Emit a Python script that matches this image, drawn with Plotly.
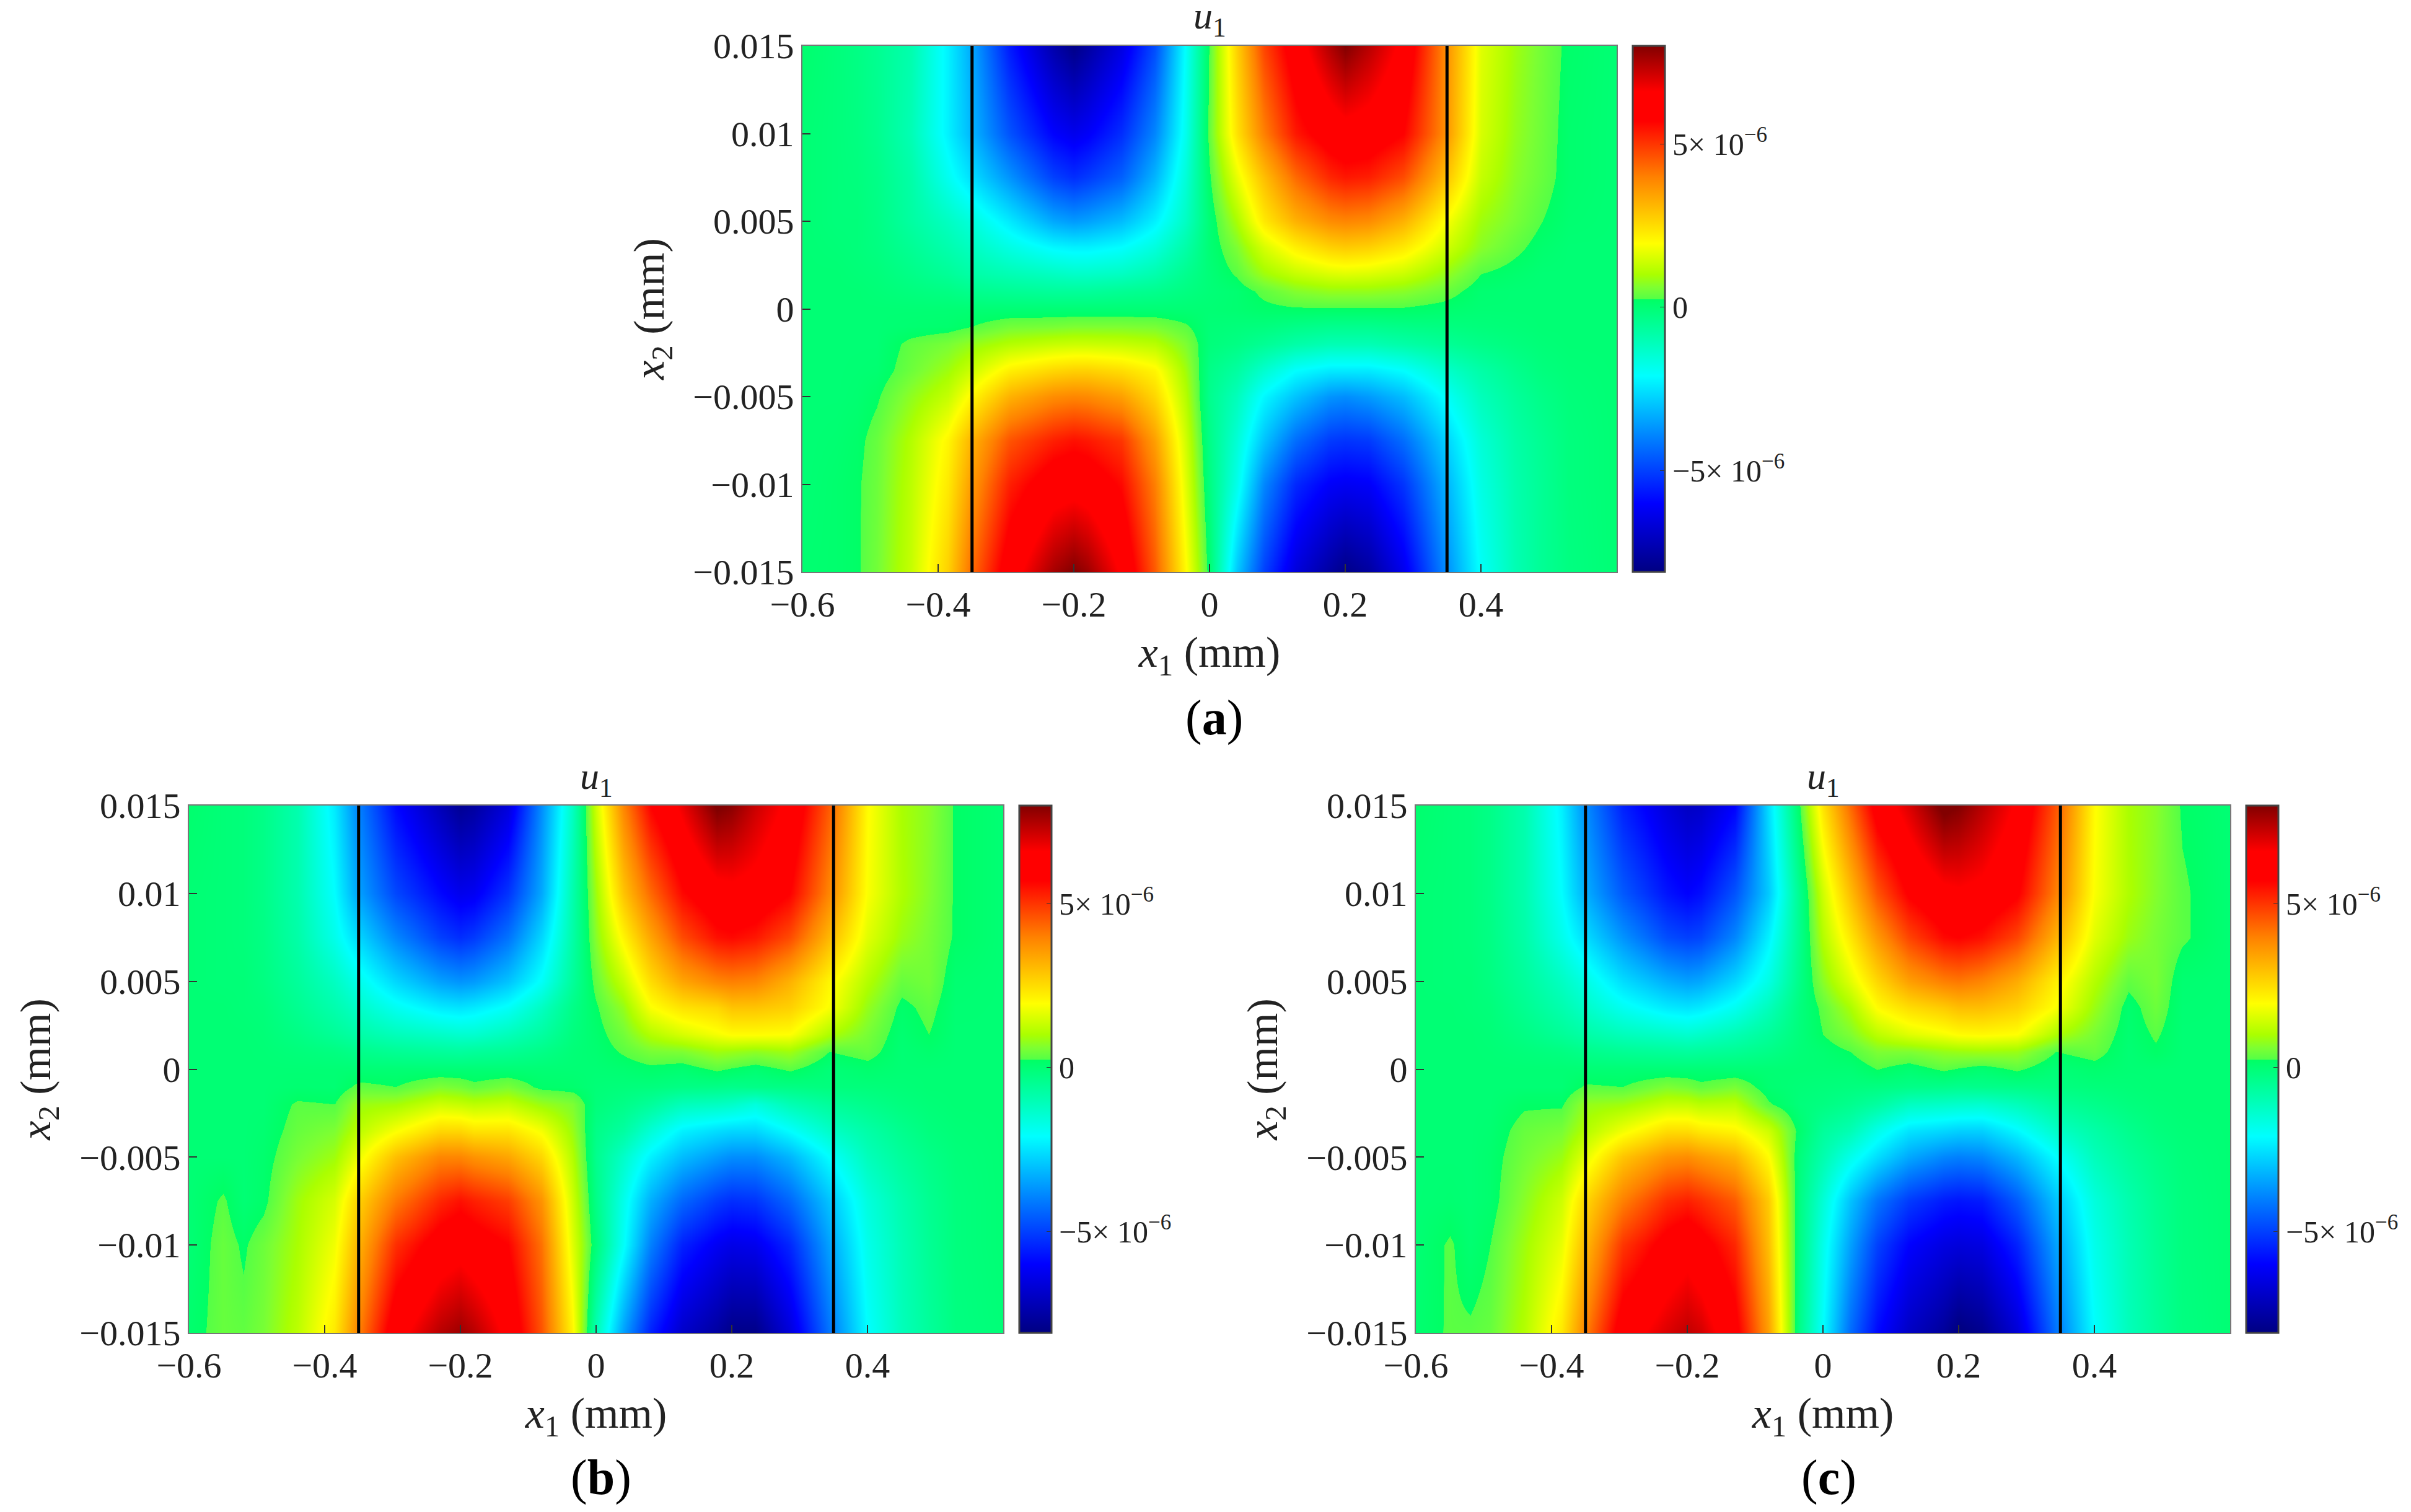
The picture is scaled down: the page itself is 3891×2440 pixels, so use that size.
#!/usr/bin/env python3
import plotly.graph_objects as go

# nodes of the field, mm
x1 = [-0.6, -0.55, -0.52, -0.49, -0.44, -0.385, -0.35, -0.295, -0.23, -0.2, -0.18, -0.13, -0.08, -0.035,
      0, 0.04, 0.08, 0.127, 0.178, 0.2, 0.235, 0.286, 0.343, 0.4, 0.45, 0.49, 0.53, 0.6]
x2 = [-0.015, -0.01, -0.0075, -0.005, -0.0035, -0.002, -0.001, 0, 0.001, 0.002, 0.0035, 0.005, 0.0075, 0.01, 0.015]

# u1, in units of 1e-6, rows go from x2 = -0.015 up
u1_a = [
    [.05, .1, .2, .5, 1.3, 2.7, 4.3, 6.2, 7.6, 8, 7.7, 6.5, 4.5, 2, .05, -2.9, -5, -6.6, -7.6, -8, -7.6, -6.3, -4, -2, -1, -.5, -.2, 0],
    [0, .1, .2, .45, 1.2, 2.3, 3.6, 5.3, 6.2, 6.3, 6.2, 5.6, 4, 1.6, -.2, -1.8, -3.9, -5.4, -6.1, -6.2, -6.1, -5.2, -3.4, -1.7, -.9, -.5, -.15, 0],
    [0, .05, .15, .4, 1.1, 2.1, 3.2, 4.6, 5.3, 5.5, 5.4, 5, 3.5, 1.4, -.3, -1.5, -3, -4.3, -5.1, -5.2, -5.1, -4.3, -2.9, -1.5, -.8, -.45, -.15, 0],
    [0, 0, .05, .2, .75, 1.3, 2.1, 3.2, 3.8, 3.9, 3.85, 3.5, 2.6, 1.1, -.4, -1.1, -2.2, -3, -3.7, -3.8, -3.6, -3.1, -2.1, -1.1, -.6, -.3, -.1, 0],
    [0, 0, .02, .05, .45, .9, 1.4, 2.2, 2.6, 2.7, 2.7, 2.5, 2.1, .9, -.3, -.7, -1.4, -2.1, -2.4, -2.4, -2.4, -2.1, -1.4, -.8, -.4, -.15, -.05, 0],
    [0, 0, 0, 0, .35, .55, .8, 1.1, 1.3, 1.35, 1.35, 1.3, 1.15, .6, -.1, -.25, -.5, -.8, -1, -1, -1, -.8, -.55, -.3, -.15, -.05, 0, 0],
    [0, 0, 0, 0, .05, .1, .25, .5, .55, .6, .6, .6, .55, .3, -.05, -.1, -.15, -.3, -.4, -.4, -.4, -.3, -.2, -.1, -.05, 0, 0, 0],
    [0, 0, 0, 0, 0, 0, 0, 0, 0, 0, 0, 0, 0, 0, 0, .05, .15, .2, .2, .2, .2, .2, .1, 0, 0, 0, 0, 0],
    [0, 0, 0, -.05, -.15, -.25, -.4, -.5, -.6, -.6, -.6, -.5, -.4, -.2, -.05, .05, .35, .65, .8, .8, .8, .7, .45, .05, 0, 0, 0, 0],
    [0, 0, -.05, -.1, -.3, -.55, -.8, -1, -1.2, -1.3, -1.3, -1.2, -.9, -.4, -.05, .3, .9, 1.3, 1.55, 1.6, 1.55, 1.35, .85, .25, .1, 0, 0, 0],
    [0, -.05, -.1, -.2, -.5, -.9, -1.2, -1.7, -2.2, -2.3, -2.3, -2.1, -1.6, -.8, 0, .6, 1.5, 2.2, 2.7, 2.8, 2.7, 2.3, 1.5, .7, .35, .1, 0, 0],
    [0, -.1, -.1, -.25, -.7, -1.2, -1.6, -2.4, -3.4, -3.6, -3.5, -3.1, -2.3, -1.2, 0, 1, 2.3, 3.2, 3.8, 3.9, 3.8, 3.2, 2, .9, .55, .25, .05, 0],
    [0, -.1, -.15, -.3, -.8, -1.9, -2.6, -3.7, -5, -5.3, -5.1, -4.5, -3.2, -1.5, .2, 1.7, 3, 4.3, 5.2, 5.4, 5.3, 4.7, 3.1, 1.3, .7, .4, .1, 0],
    [0, -.1, -.2, -.4, -1, -2.3, -3.2, -4.7, -6, -6.3, -6.1, -5.3, -3.9, -1.8, .4, 2.4, 4, 5.4, 6.1, 6.3, 6.2, 5.7, 3.9, 1.5, .8, .45, .1, 0],
    [.1, -.1, -.25, -.45, -.9, -2.3, -3.4, -5.6, -7.4, -8, -7.6, -6.5, -4.8, -2, .3, 2.7, 4.8, 6.2, 7.5, 8, 7.4, 6.4, 4, 1.6, .9, .5, .15, 0],
]
u1_b = [
    [.1, .4, .35, .55, 1.2, 2.3, 4, 6.3, 7.4, 7.7, 7.4, 6.4, 4.6, 2.1, -1, -3.5, -5.5, -6.9, -7.6, -8, -8, -6.6, -4.2, -2.1, -1.1, -.6, -.2, -.05],
    [0, .4, .2, .45, 1, 1.8, 3.2, 5.1, 6.1, 6.3, 6.1, 5.7, 4.2, 1.6, -.1, -2, -4, -5.5, -6.2, -6.4, -6.3, -5.4, -3.5, -1.8, -1, -.5, -.15, 0],
    [0, .3, 0, .15, .9, 1.5, 2.7, 4.1, 5.2, 5.5, 5.3, 4.9, 3.7, 1.4, -.3, -1.8, -3.3, -4.4, -5.1, -5.3, -5.2, -4.4, -3, -1.6, -.9, -.45, -.15, 0],
    [0, 0, 0, .1, .55, .9, 1.75, 3, 3.9, 3.9, 3.7, 3.4, 2.6, 1.1, -.4, -1.3, -2.3, -3.1, -3.6, -3.8, -3.8, -3.2, -2.1, -1.1, -.6, -.3, -.1, 0],
    [0, 0, 0, .05, .4, .6, 1.2, 1.9, 2.6, 2.6, 2.4, 2.4, 1.85, .85, -.3, -.7, -1.5, -2.3, -2.6, -2.7, -2.7, -2.1, -1.3, -.8, -.4, -.15, -.05, 0],
    [0, 0, 0, 0, .3, .25, .85, .95, 1.4, 1.3, 1.2, 1.3, .85, .6, -.1, -.3, -.6, -1.1, -1.2, -1.3, -1.6, -1, -.6, -.35, -.15, -.05, 0, 0],
    [0, 0, 0, 0, .05, .02, .35, .25, .6, .5, .35, .55, .15, .1, -.05, -.1, -.15, -.25, -.3, -.35, -.3, -.25, -.15, -.1, -.05, 0, 0, 0],
    [0, 0, 0, 0, 0, 0, 0, 0, 0, 0, 0, 0, 0, 0, 0, .05, .15, .05, .3, .2, .05, .3, -.05, .1, 0, 0, 0, 0],
    [0, 0, 0, -.02, -.1, -.2, -.35, -.5, -.6, -.65, -.6, -.5, -.3, -.05, .05, .3, .55, .6, .9, .85, .75, .9, .25, .4, 0, .1, 0, 0],
    [0, 0, 0, -.05, -.25, -.55, -.8, -1.1, -1.3, -1.4, -1.4, -1.1, -.7, -.15, .1, .5, 1.1, 1.5, 1.85, 2, 2, 1.95, 1.05, .55, .05, .25, 0, 0],
    [0, 0, -.05, -.1, -.45, -.9, -1.3, -1.9, -2.4, -2.5, -2.4, -2, -1.2, -.3, .2, .8, 1.9, 2.4, 2.6, 2.9, 2.9, 2.7, 1.9, .8, .15, .35, .02, 0],
    [0, -.05, -.05, -.2, -.6, -1.2, -1.8, -2.7, -3.5, -3.7, -3.6, -3, -2, -.6, .4, 1.3, 2.5, 3.4, 3.9, 4, 3.9, 3.2, 2.1, 1.1, .4, .5, .05, 0],
    [0, -.05, -.1, -.25, -.8, -1.8, -2.7, -3.9, -5, -5.3, -5.1, -4.2, -2.7, -.8, .7, 2.1, 3.4, 4.7, 5.5, 5.6, 5.4, 4.7, 3.1, 1.6, .85, .55, .2, 0],
    [0, -.05, -.1, -.3, -.9, -2.1, -3.5, -4.9, -5.9, -6.3, -6.2, -5.2, -3.4, -.9, .9, 2.9, 4.3, 5.6, 6.3, 6.4, 6.3, 5.7, 3.9, 1.9, 1.05, .65, .2, 0],
    [.1, -.05, -.1, -.3, -.9, -2.4, -4, -5.9, -7.2, -7.8, -7.6, -6.6, -3.8, -1.2, 1.4, 3.9, 5.7, 6.8, 8.1, 7.9, 7.2, 6.4, 4.5, 2, 1, .7, .2, 0],
]
u1_c = [
    [.05, .3, .3, .4, 1.1, 2.3, 4, 6.2, 7, 7.3, 7.1, 6, 3.5, -.3, -2.1, -4.3, -5.9, -7, -7.7, -8.2, -7.9, -6.7, -4.2, -2.1, -1.1, -.6, -.2, 0],
    [0, .3, .05, .25, .9, 1.7, 3.1, 5, 6, 6.3, 6, 5.2, 3, -.2, -1.8, -3.5, -5, -6, -6.5, -6.6, -6.5, -5.5, -3.5, -1.8, -1, -.5, -.15, 0],
    [0, .05, 0, .1, .7, 1.4, 2.6, 4, 5.1, 5.3, 5.1, 4.5, 2.8, -.2, -1.5, -3, -4.2, -5.1, -5.6, -5.7, -5.6, -4.6, -3, -1.6, -.9, -.45, -.15, 0],
    [0, 0, 0, .1, .5, .85, 1.65, 2.9, 3.7, 3.8, 3.6, 3.2, 2, -.1, -.9, -1.8, -2.6, -3.4, -3.9, -4, -3.9, -3.2, -2.1, -1.1, -.6, -.3, -.1, 0],
    [0, 0, 0, .05, .4, .55, 1.1, 1.8, 2.5, 2.5, 2.3, 2.1, 1.4, .1, -.6, -1, -1.8, -2.5, -2.7, -2.8, -2.8, -2.2, -1.3, -.8, -.4, -.15, -.05, 0],
    [0, 0, 0, 0, .2, .2, .8, .9, 1.3, 1.3, 1.15, 1.2, .3, -.1, -.2, -.4, -.7, -1.2, -1.3, -1.35, -1.4, -1.1, -.6, -.35, -.15, -.05, 0, 0],
    [0, 0, 0, 0, 0, 0, .3, .25, .6, .5, .35, .55, .05, -.05, -.1, -.15, -.2, -.3, -.35, -.4, -.35, -.3, -.2, -.1, -.05, 0, 0, 0],
    [0, 0, 0, 0, 0, 0, 0, 0, 0, 0, 0, 0, 0, 0, 0, 0, .25, .05, .3, .2, .05, .3, -.05, .1, 0, 0, 0, 0],
    [0, 0, 0, -.02, -.1, -.2, -.35, -.5, -.6, -.65, -.6, -.5, -.3, -.05, .05, .25, .6, .6, .8, .85, .9, .85, .25, .4, 0, .2, 0, 0],
    [0, 0, 0, -.05, -.25, -.55, -.8, -1.1, -1.3, -1.4, -1.3, -1, -.6, -.1, .25, .6, 1.2, 1.6, 1.85, 2, 2.05, 1.95, 1.05, .55, .05, .3, 0, 0],
    [0, 0, -.05, -.1, -.45, -.9, -1.3, -1.9, -2.4, -2.5, -2.4, -1.9, -1.1, -.15, .35, 1, 2, 2.5, 2.8, 3, 3, 2.7, 1.9, .85, .1, .45, .02, 0],
    [0, -.05, -.05, -.2, -.6, -1.2, -1.7, -2.6, -3.3, -3.5, -3.4, -2.7, -1.7, -.3, .7, 1.6, 2.6, 3.5, 4, 4.1, 3.9, 3.3, 2.2, 1.1, .35, .55, .05, 0],
    [0, -.05, -.1, -.25, -.8, -1.8, -2.6, -3.7, -4.8, -5, -4.9, -3.9, -2.3, -.4, 1.1, 2.3, 3.6, 4.8, 5.6, 5.7, 5.5, 4.8, 3.2, 1.6, .85, .55, .3, 0],
    [0, -.05, -.1, -.3, -.9, -2.1, -3.3, -4.6, -5.7, -6, -5.8, -4.7, -2.9, -.4, 1.4, 3, 4.6, 5.8, 6.4, 6.5, 6.4, 5.8, 4, 1.9, 1.05, .65, .3, 0],
    [.1, -.05, -.1, -.3, -.9, -2.3, -3.8, -5.5, -6.6, -7, -6.9, -6, -2.6, .2, 2.4, 4.3, 6.1, 7, 8.2, 8, 7.4, 6.5, 4.6, 2, 1, .7, .2, 0],
]

line_x = [-0.35, 0.35]
x_ticks = [-0.6, -0.4, -0.2, 0, 0.2, 0.4]
x_labels = ["−0.6", "−0.4", "−0.2", "0", "0.2", "0.4"]
y_ticks = [-0.015, -0.01, -0.005, 0, 0.005, 0.01, 0.015]
y_labels = ["−0.015", "−0.01", "−0.005", "0", "0.005", "0.01", "0.015"]
bar_ticks = [-5, 0, 5]
bar_labels = ["−5× 10<sup>−6</sup>", "0", "5× 10<sup>−6</sup>"]

z_min, z_max = -8.1, 8.0
# jet-like map, with the jump just above zero that the colour bar shows
stops = [
    (-8.1, "rgb(0,0,130)"), (-6.0, "rgb(0,0,255)"), (-4.0, "rgb(0,128,255)"), (-2.1, "rgb(0,255,255)"),
    (-1.0, "rgb(0,255,180)"), (0.249, "rgb(0,255,100)"), (0.25, "rgb(85,255,70)"), (0.6, "rgb(125,255,50)"),
    (1.0, "rgb(170,255,0)"), (1.95, "rgb(255,255,0)"), (4.0, "rgb(255,128,0)"), (5.7, "rgb(255,0,0)"),
    (6.6, "rgb(255,0,0)"), (8.0, "rgb(130,0,0)"),
]
colorscale = [[(v - z_min) / (z_max - z_min), c] for v, c in stops]

W, H = 3891, 2440
FONT = "Liberation Serif"
TICK_SIZE = 58
TITLE_SIZE = 70
PAGE_MARGIN = 8  # the browser's default body margin shifts the whole figure

# name, data, plot box in pixels (left, right, top, bottom), colour bar left, label centre
panels = [
    ("a", u1_a, (1295, 2609, 74, 923), 2635, (1959, 1158)),
    ("b", u1_b, (305, 1619, 1300, 2151), 1645, (970, 2384)),
    ("c", u1_c, (2285, 3599, 1300, 2151), 3625, (2951, 2384)),
]


def px(v):
    return (v - PAGE_MARGIN) / W


def py(v):
    return 1 - (v - PAGE_MARGIN) / H


fig = go.Figure()
annotations = []
for i, (name, z, (left, right, top, bottom), bar_left, (lab_x, lab_y)) in enumerate(panels):
    assert all(len(r) == len(x1) for r in z) and len(z) == len(x2)
    xaxis, yaxis = f"x{i + 1}", f"y{i + 1}"
    fig.add_trace(go.Heatmap(
        x=x1, y=x2, z=z, zmin=z_min, zmax=z_max, zsmooth="best", colorscale=colorscale,
        xaxis=xaxis, yaxis=yaxis, hoverinfo="skip",
        colorbar=dict(
            x=px(bar_left), xanchor="left", xpad=0, ypad=0,
            y=py(top), yanchor="top", len=(bottom - top) / H, lenmode="fraction",
            thickness=52, thicknessmode="pixels",
            outlinecolor="#444", outlinewidth=3,
            tickvals=bar_ticks, ticktext=bar_labels, ticks="inside", ticklen=9, tickcolor="#333",
            tickfont=dict(family=FONT, size=50, color="#222"),
        ),
    ))
    for lx in line_x:
        fig.add_trace(go.Scatter(
            x=[lx, lx], y=[x2[0], x2[-1]], mode="lines", line=dict(color="black", width=5),
            xaxis=xaxis, yaxis=yaxis, showlegend=False, hoverinfo="skip",
        ))
    fig.layout[f"xaxis{i + 1}"] = dict(
        domain=[px(left), px(right)], range=[-0.6, 0.6], anchor=yaxis,
        tickvals=x_ticks, ticktext=x_labels, ticks="inside", ticklen=13, tickwidth=2, tickcolor="#333",
        tickfont=dict(family=FONT, size=TICK_SIZE, color="#222"),
        showgrid=False, zeroline=False, showline=True, mirror=True, linecolor="#777", linewidth=2,
        title=dict(text="<i>x</i><sub>1</sub> (mm)", standoff=20, font=dict(family=FONT, size=TITLE_SIZE, color="#222")),
    )
    fig.layout[f"yaxis{i + 1}"] = dict(
        domain=[py(bottom), py(top)], range=[-0.015, 0.015], anchor=xaxis,
        tickvals=y_ticks, ticktext=y_labels, ticks="inside", ticklen=13, tickwidth=2, tickcolor="#333",
        tickfont=dict(family=FONT, size=TICK_SIZE, color="#222"),
        showgrid=False, zeroline=False, showline=True, mirror=True, linecolor="#777", linewidth=2,
        title=dict(text="<i>x</i><sub>2</sub> (mm)", standoff=24, font=dict(family=FONT, size=TITLE_SIZE, color="#222")),
    )
    annotations.append(dict(
        text="<i>u</i><sub>1</sub>", x=px((left + right) / 2), y=py(top - 44), xref="paper", yref="paper",
        xanchor="center", yanchor="middle", showarrow=False, font=dict(family=FONT, size=62, color="#222"),
    ))
    annotations.append(dict(
        text=f"(<b>{name}</b>)", x=px(lab_x), y=py(lab_y), xref="paper", yref="paper",
        xanchor="center", yanchor="middle", showarrow=False, font=dict(family=FONT, size=80, color="black"),
    ))

fig.update_layout(
    width=W, height=H, margin=dict(l=0, r=0, t=0, b=0, autoexpand=False), paper_bgcolor="white", plot_bgcolor="white",
    showlegend=False, annotations=annotations,
)
fig.write_html("out.html")
